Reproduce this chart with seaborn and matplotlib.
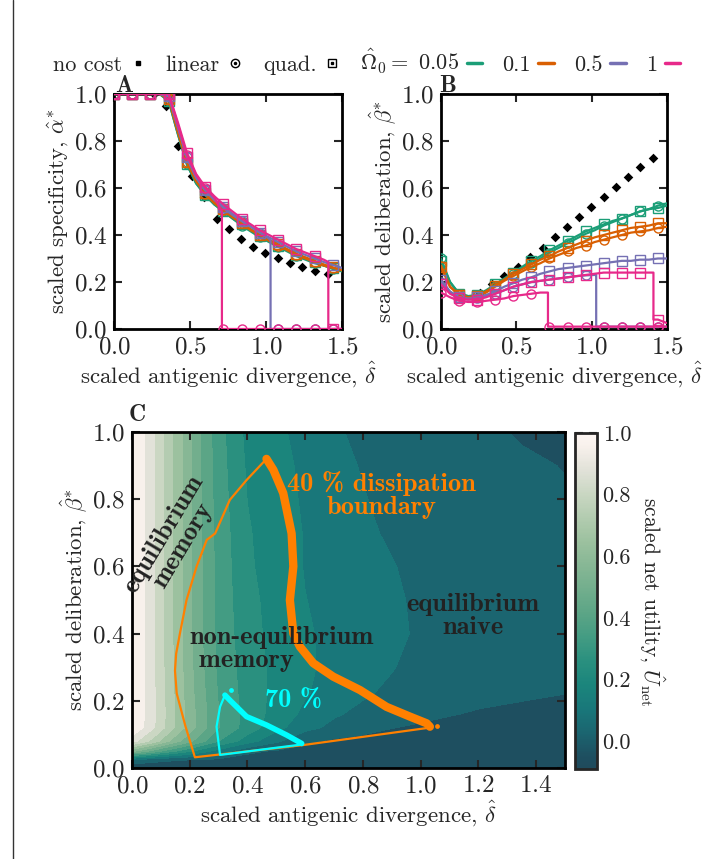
import numpy as np
import matplotlib
matplotlib.use('Agg')
import matplotlib.pyplot as plt
import matplotlib.cm as cm
from matplotlib.colors import LinearSegmentedColormap, Normalize
from matplotlib.lines import Line2D
from matplotlib.ticker import FormatStrFormatter
import seaborn as sns

sns.set_style('ticks')
plt.rcParams['font.family'] = ['cmr10', 'DejaVu Serif']
plt.rcParams['mathtext.fontset'] = 'cm'
plt.rcParams['axes.unicode_minus'] = False
plt.rcParams['axes.formatter.use_mathtext'] = True

# ---- panels A and B: scaled antigenic divergence grid ----
delta = [0.00, 0.06, 0.12, 0.18, 0.24, 0.30, 0.36, 0.42, 0.48, 0.54, 0.60, 0.66, 0.72,
         0.78, 0.84, 0.90, 0.96, 1.02, 1.08, 1.14, 1.20, 1.26, 1.32, 1.38, 1.44, 1.50]
omegas = ['0.05', '0.1', '0.5', '1']
omega_colors = ['#1b9e77', '#d95f02', '#7570b3', '#e7298a']
# where a solution collapses to zero (linear / quadratic cost), None = never
drop_lin = [None, None, 1.03, 0.71]
drop_quad = [None, None, None, 1.41]
# value just before the collapse
drop_lin_top_a = [None, None, 0.375, 0.50]
drop_quad_top_a = [None, None, None, 0.285]
drop_lin_top_b = [None, None, 0.23, 0.155]
drop_quad_top_b = [None, None, None, 0.24]

# A: scaled specificity alpha*
alpha_lin_005 = [1, 1, 1, 1, 1, 1, 0.97, 0.83, 0.70, 0.62, 0.57, 0.53, 0.50, 0.47, 0.44, 0.415, 0.39, 0.37, 0.35, 0.33, 0.31, 0.295, 0.28, 0.27, 0.255, 0.245]
alpha_quad_005 = [1, 1, 1, 1, 1, 1, 0.97, 0.83, 0.70, 0.62, 0.57, 0.53, 0.50, 0.47, 0.445, 0.42, 0.395, 0.375, 0.355, 0.335, 0.315, 0.30, 0.285, 0.27, 0.26, 0.25]
alpha_lin_01 = [1, 1, 1, 1, 1, 1, 0.98, 0.84, 0.71, 0.63, 0.575, 0.535, 0.505, 0.475, 0.45, 0.42, 0.40, 0.375, 0.355, 0.335, 0.315, 0.30, 0.285, 0.27, 0.26, 0.25]
alpha_quad_01 = [1, 1, 1, 1, 1, 1, 0.98, 0.84, 0.71, 0.63, 0.58, 0.54, 0.51, 0.48, 0.45, 0.425, 0.40, 0.38, 0.36, 0.34, 0.32, 0.305, 0.29, 0.275, 0.262, 0.25]
alpha_lin_05 = [1, 1, 1, 1, 1, 1, 0.99, 0.86, 0.73, 0.645, 0.59, 0.55, 0.515, 0.485, 0.46, 0.435, 0.41, 0.385, 0, 0, 0, 0, 0, 0, 0, 0]
alpha_quad_05 = [1, 1, 1, 1, 1, 1, 0.99, 0.86, 0.73, 0.645, 0.59, 0.55, 0.52, 0.49, 0.46, 0.435, 0.41, 0.39, 0.37, 0.35, 0.33, 0.315, 0.30, 0.285, 0.272, 0.26]
alpha_lin_1 = [1, 1, 1, 1, 1, 1, 1.0, 0.87, 0.74, 0.655, 0.60, 0.56, 0, 0, 0, 0, 0, 0, 0, 0, 0, 0, 0, 0, 0, 0]
alpha_quad_1 = [1, 1, 1, 1, 1, 1, 1.0, 0.88, 0.75, 0.66, 0.605, 0.565, 0.53, 0.50, 0.47, 0.445, 0.42, 0.40, 0.38, 0.36, 0.34, 0.325, 0.31, 0.295, 0, 0]

# B: scaled deliberation beta*
beta_lin_005 = [0.30, 0.20, 0.15, 0.14, 0.14, 0.16, 0.185, 0.21, 0.235, 0.26, 0.28, 0.30, 0.325, 0.345, 0.365, 0.385, 0.405, 0.42, 0.44, 0.455, 0.47, 0.485, 0.50, 0.51, 0.525, 0.535]
beta_quad_005 = [0.29, 0.20, 0.15, 0.14, 0.145, 0.165, 0.19, 0.215, 0.24, 0.265, 0.29, 0.31, 0.335, 0.355, 0.375, 0.395, 0.415, 0.43, 0.445, 0.46, 0.47, 0.485, 0.50, 0.51, 0.515, 0.525]
beta_lin_01 = [0.27, 0.18, 0.145, 0.135, 0.14, 0.155, 0.18, 0.205, 0.225, 0.245, 0.265, 0.28, 0.30, 0.315, 0.33, 0.345, 0.355, 0.37, 0.38, 0.39, 0.40, 0.41, 0.415, 0.42, 0.43, 0.435]
beta_quad_01 = [0.265, 0.18, 0.145, 0.135, 0.14, 0.16, 0.185, 0.21, 0.235, 0.255, 0.275, 0.295, 0.31, 0.33, 0.345, 0.36, 0.375, 0.39, 0.40, 0.41, 0.42, 0.43, 0.435, 0.44, 0.45, 0.45]
beta_lin_05 = [0.20, 0.155, 0.13, 0.125, 0.13, 0.14, 0.15, 0.165, 0.18, 0.19, 0.20, 0.205, 0.21, 0.215, 0.22, 0.225, 0.228, 0.23, 0.01, 0.01, 0.01, 0.01, 0.01, 0.01, 0.01, 0.01]
beta_quad_05 = [0.21, 0.16, 0.135, 0.13, 0.135, 0.145, 0.16, 0.18, 0.195, 0.21, 0.22, 0.235, 0.245, 0.255, 0.26, 0.265, 0.27, 0.275, 0.28, 0.285, 0.29, 0.29, 0.295, 0.295, 0.30, 0.30]
beta_lin_1 = [0.155, 0.135, 0.12, 0.115, 0.115, 0.12, 0.125, 0.13, 0.14, 0.145, 0.15, 0.155, 0.01, 0.01, 0.01, 0.01, 0.01, 0.01, 0.01, 0.01, 0.01, 0.01, 0.01, 0.01, 0.01, 0.01]
beta_quad_1 = [0.19, 0.15, 0.13, 0.125, 0.125, 0.135, 0.15, 0.165, 0.18, 0.19, 0.20, 0.205, 0.21, 0.215, 0.22, 0.225, 0.23, 0.235, 0.24, 0.24, 0.24, 0.24, 0.24, 0.24, 0.04, 0.025]

# no cost
nc_delta = [0.26, 0.34, 0.42, 0.51, 0.59, 0.675, 0.755, 0.835, 0.915, 0.995, 1.08, 1.16, 1.24, 1.32, 1.41]
nc_alpha = [1.0, 0.95, 0.78, 0.65, 0.56, 0.47, 0.425, 0.385, 0.35, 0.325, 0.30, 0.28, 0.262, 0.245, 0.232]
nc_beta = [0.155, 0.19, 0.225, 0.265, 0.308, 0.343, 0.39, 0.435, 0.477, 0.52, 0.56, 0.603, 0.647, 0.69, 0.728]

# ---- panel C: scaled net utility on (delta, beta) ----
u_delta = [0.0, 0.04, 0.08, 0.12, 0.17, 0.23, 0.3, 0.4, 0.5, 0.6, 0.7, 0.8, 0.9, 1.0, 1.1, 1.2, 1.35, 1.5]
u_beta = [0.0, 0.025, 0.05, 0.08, 0.12, 0.16, 0.22, 0.3, 0.4, 0.5, 0.6, 0.7, 0.8, 0.9, 1.0]
u_net = [
    [-0.085] * 18,
    [0.06, 0.04, 0.02, 0.005, -0.005, -0.015, -0.025, -0.035, -0.045, -0.05, -0.055, -0.06, -0.065, -0.065, -0.07, -0.07, -0.075, -0.075],
    [0.55, 0.48, 0.41, 0.34, 0.27, 0.19, 0.11, 0.0, -0.02, -0.035, -0.045, -0.055, -0.06, -0.06, -0.065, -0.065, -0.07, -0.07],
    [0.88, 0.8, 0.72, 0.63, 0.53, 0.42, 0.3, 0.18, 0.08, 0.0, -0.025, -0.04, -0.05, -0.055, -0.06, -0.06, -0.065, -0.065],
    [0.99, 0.92, 0.84, 0.75, 0.635, 0.51, 0.38, 0.265, 0.17, 0.09, 0.045, 0.02, -0.01, -0.025, -0.035, -0.04, -0.05, -0.055],
    [1.0, 0.93, 0.85, 0.755, 0.64, 0.51, 0.38, 0.27, 0.19, 0.125, 0.075, 0.045, 0.025, 0.01, -0.008, -0.02, -0.03, -0.04],
    [1.0, 0.93, 0.845, 0.75, 0.63, 0.5, 0.37, 0.265, 0.2, 0.15, 0.11, 0.075, 0.05, 0.035, 0.02, 0.01, -0.002, -0.012],
    [1.0, 0.93, 0.84, 0.745, 0.625, 0.49, 0.36, 0.26, 0.2, 0.155, 0.125, 0.105, 0.07, 0.04, 0.03, 0.02, 0.01, 0.0],
    [1.0, 0.93, 0.84, 0.74, 0.62, 0.48, 0.355, 0.25, 0.195, 0.15, 0.13, 0.115, 0.09, 0.05, 0.035, 0.025, 0.015, 0.005],
    [1.0, 0.93, 0.84, 0.74, 0.62, 0.48, 0.35, 0.245, 0.19, 0.145, 0.125, 0.11, 0.085, 0.045, 0.03, 0.02, 0.01, 0.0],
    [1.0, 0.93, 0.84, 0.74, 0.62, 0.48, 0.35, 0.235, 0.18, 0.14, 0.125, 0.1, 0.07, 0.045, 0.03, 0.02, 0.01, 0.0],
    [1.0, 0.93, 0.84, 0.74, 0.62, 0.475, 0.345, 0.23, 0.175, 0.14, 0.12, 0.08, 0.055, 0.04, 0.03, 0.02, 0.01, 0.0],
    [1.0, 0.93, 0.84, 0.74, 0.62, 0.475, 0.34, 0.22, 0.17, 0.135, 0.11, 0.07, 0.045, 0.035, 0.025, 0.015, 0.003, -0.005],
    [1.0, 0.93, 0.84, 0.74, 0.62, 0.47, 0.335, 0.21, 0.165, 0.13, 0.09, 0.06, 0.04, 0.03, 0.02, 0.01, 0.0, -0.015],
    [1.0, 0.93, 0.84, 0.74, 0.62, 0.47, 0.33, 0.2, 0.155, 0.125, 0.075, 0.05, 0.035, 0.025, 0.015, 0.005, -0.02, -0.05],
]

# dissipation boundaries
orange_thin_x = [1.03, 0.59, 0.218, 0.185, 0.155, 0.149, 0.153, 0.166, 0.189, 0.224, 0.259, 0.288, 0.339, 0.397, 0.466]
orange_thin_y = [0.12, 0.068, 0.032, 0.125, 0.222, 0.29, 0.34, 0.40, 0.50, 0.60, 0.679, 0.698, 0.798, 0.857, 0.92]
orange_thick_x = [0.466, 0.49, 0.524, 0.553, 0.559, 0.547, 0.559, 0.582, 0.628, 0.697, 0.79, 0.882, 0.963, 1.021, 1.032]
orange_thick_y = [0.92, 0.887, 0.818, 0.698, 0.60, 0.50, 0.40, 0.361, 0.312, 0.272, 0.232, 0.182, 0.153, 0.133, 0.123]
cyan_thin_x = [0.588, 0.305, 0.293, 0.305, 0.322]
cyan_thin_y = [0.07, 0.039, 0.123, 0.182, 0.217]
cyan_thick_x = [0.322, 0.339, 0.397, 0.466, 0.536, 0.588]
cyan_thick_y = [0.217, 0.202, 0.153, 0.128, 0.098, 0.073]

ORANGE = '#ff8000'
CYAN = '#00ffff'
TXT = '#222222'
TICK_FS = 18
LABEL_FS = 16.5

fig = plt.figure(figsize=(7.05, 8.59), dpi=100)
axA = fig.add_axes([0.1617, 0.617, 0.3234, 0.2736])
axB = fig.add_axes([0.6255, 0.617, 0.3206, 0.2736])
axC = fig.add_axes([0.1872, 0.1059, 0.6142, 0.3912])
cax = fig.add_axes([0.8156, 0.1048, 0.0312, 0.391])


def style_axes(ax):
    for s in ax.spines.values():
        s.set_linewidth(2)
        s.set_color('k')
    ax.tick_params(direction='in', top=True, right=True, length=6, width=1.5,
                   labelsize=TICK_FS, pad=5)


def with_drop(vals, drop_x, top):
    # insert a vertical step where the solution collapses
    xs, ys = list(delta), list(vals)
    marks = list(range(0, len(delta), 2))
    if drop_x is None:
        return xs, ys, marks
    i = next(k for k, x in enumerate(xs) if x > drop_x)
    xs = xs[:i] + [drop_x, drop_x] + xs[i:]
    ys = ys[:i] + [top, ys[i]] + ys[i:]
    marks = [m if m < i else m + 2 for m in marks]
    return xs, ys, marks


def draw_curves(ax, lin, quad, nc_vals, lin_tops, quad_tops):
    sns.scatterplot(x=nc_delta, y=nc_vals, ax=ax, marker='D', color='k', s=24,
                    edgecolor='k', linewidth=0, zorder=2)
    for j, (om, col) in enumerate(zip(omegas, omega_colors)):
        for vals, mk, dr, top in [(quad[om], 's', drop_quad[j], quad_tops[j]),
                                  (lin[om], 'o', drop_lin[j], lin_tops[j])]:
            xs, ys, marks = with_drop(vals, dr, top)
            sns.lineplot(x=xs, y=ys, ax=ax, sort=False, estimator=None, color=col,
                         lw=1.6, marker=mk, ms=6.5, mfc='none', mec=col, mew=1.0,
                         markevery=marks, zorder=3)
    ax.set_xlim(0, 1.5)
    ax.set_ylim(0, 1.0)
    ax.set_xticks([0, 0.5, 1.0, 1.5])
    ax.set_yticks([0, 0.2, 0.4, 0.6, 0.8, 1.0])
    ax.set_xlabel(r'scaled antigenic divergence, $\hat{\delta}$', fontsize=LABEL_FS, labelpad=1)
    style_axes(ax)


alpha_lin = dict(zip(omegas, [alpha_lin_005, alpha_lin_01, alpha_lin_05, alpha_lin_1]))
alpha_quad = dict(zip(omegas, [alpha_quad_005, alpha_quad_01, alpha_quad_05, alpha_quad_1]))
beta_lin = dict(zip(omegas, [beta_lin_005, beta_lin_01, beta_lin_05, beta_lin_1]))
beta_quad = dict(zip(omegas, [beta_quad_005, beta_quad_01, beta_quad_05, beta_quad_1]))

draw_curves(axA, alpha_lin, alpha_quad, nc_alpha, drop_lin_top_a, drop_quad_top_a)
axA.set_ylabel(r'scaled specificity, $\hat{\alpha}^{*}$', fontsize=LABEL_FS, labelpad=2)
draw_curves(axB, beta_lin, beta_quad, nc_beta, drop_lin_top_b, drop_quad_top_b)
axB.set_ylabel(r'scaled deliberation, $\hat{\beta}^{*}$', fontsize=LABEL_FS, labelpad=2)

axA.text(0.044, 1.034, 'A', transform=axA.transAxes, family='cmb10', fontsize=17,
         ha='center', va='center')
axB.text(0.031, 1.034, 'B', transform=axB.transAxes, family='cmb10', fontsize=17,
         ha='center', va='center')

# ---- panel C ----
anchors = [(-0.09, '#1f4a5c'), (-0.05, '#1e4f60'), (0.027, '#1b6570'), (0.105, '#19787a'),
           (0.183, '#1b857c'), (0.261, '#2a907f'), (0.339, '#449c83'), (0.417, '#5ca586'),
           (0.494, '#72ae8d'), (0.572, '#87b795'), (0.65, '#9cc19f'), (0.728, '#b3ccb0'),
           (0.806, '#cad7c3'), (0.884, '#e2e2d9'), (0.961, '#f8f1ec'), (1.0, '#fdf6f3')]
vmin, vmax = -0.09, 1.0
cmap = LinearSegmentedColormap.from_list(
    'utility', [((v - vmin) / (vmax - vmin), c) for v, c in anchors])
norm = Normalize(vmin=vmin, vmax=vmax)
levels = np.linspace(vmin, vmax, 15)

X, Y = np.meshgrid(u_delta, u_beta)
axC.contourf(X, Y, np.array(u_net), levels=levels, cmap=cmap, norm=norm, zorder=0)

sns.lineplot(x=orange_thin_x, y=orange_thin_y, ax=axC, sort=False, estimator=None,
             color=ORANGE, lw=1.6, zorder=3)
sns.lineplot(x=orange_thick_x, y=orange_thick_y, ax=axC, sort=False, estimator=None,
             color=ORANGE, lw=6, zorder=3)
sns.lineplot(x=cyan_thin_x, y=cyan_thin_y, ax=axC, sort=False, estimator=None,
             color=CYAN, lw=1.6, zorder=4)
sns.lineplot(x=cyan_thick_x, y=cyan_thick_y, ax=axC, sort=False, estimator=None,
             color=CYAN, lw=4, zorder=4)
sns.scatterplot(x=[0.342], y=[0.232], ax=axC, color=CYAN, s=12, linewidth=0, zorder=4)
sns.scatterplot(x=[1.055], y=[0.125], ax=axC, color=ORANGE, s=12, linewidth=0, zorder=4)

bold = dict(family='cmb10', fontsize=19)
axC.text(0.143, 0.68, 'equilibrium\nmemory', color=TXT, rotation=59, ha='center',
         va='center', linespacing=1.0, **bold)
axC.text(0.20, 0.354, 'non-equilibrium\n memory', color=TXT, ha='left', va='center',
         multialignment='left', linespacing=1.0, **bold)
axC.text(1.18, 0.452, 'equilibrium\nnaive', color=TXT, ha='center', va='center',
         linespacing=1.0, **bold)
axC.text(0.865, 0.812, '40 % dissipation\nboundary', color=ORANGE, ha='center',
         va='center', linespacing=1.0, **bold)
axC.text(0.56, 0.197, '70 %', color=CYAN, ha='center', va='center', **bold)

axC.set_xlim(0, 1.5)
axC.set_ylim(0, 1.0)
axC.set_xticks([0, 0.2, 0.4, 0.6, 0.8, 1.0, 1.2, 1.4])
axC.set_yticks([0, 0.2, 0.4, 0.6, 0.8, 1.0])
axC.set_xlabel(r'scaled antigenic divergence, $\hat{\delta}$', fontsize=LABEL_FS, labelpad=1)
axC.set_ylabel(r'scaled deliberation, $\hat{\beta}^{*}$', fontsize=LABEL_FS, labelpad=2)
style_axes(axC)
axC.text(0.012, 1.05, 'C', transform=axC.transAxes, family='cmb10', fontsize=17,
         ha='center', va='center')

sm = cm.ScalarMappable(norm=norm, cmap=cmap)
cb = fig.colorbar(sm, cax=cax)
cb.set_ticks([0.0, 0.2, 0.4, 0.6, 0.8, 1.0])
cb.ax.yaxis.set_major_formatter(FormatStrFormatter('%.1f'))
cb.outline.set_linewidth(2)
cax.tick_params(direction='in', left=True, right=True, length=6, width=1.5,
                labelsize=16, pad=4)
cb.set_label(r'scaled net utility, $\hat{U}_{\rm net}$', rotation=270, fontsize=15.5,
             labelpad=26)

# ---- legend row ----
handles = [
    Line2D([], [], ls='none', marker='s', color='k', ms=3.5),
    (Line2D([], [], ls='none', marker='o', mfc='none', mec='k', ms=6, mew=1),
     Line2D([], [], ls='none', marker='o', color='k', ms=1.5)),
    (Line2D([], [], ls='none', marker='s', mfc='none', mec='k', ms=6, mew=1),
     Line2D([], [], ls='none', marker='s', color='k', ms=1.5)),
]
handles += [Line2D([], [], color=c, lw=2.5) for c in omega_colors]
labels = ['no cost', 'linear', 'quad.', r'$\hat{\Omega}_0 =$ 0.05', '0.1', '0.5', '1']
fig.legend(handles, labels, loc='center', bbox_to_anchor=(0.52, 0.928), ncol=7,
           frameon=False, markerfirst=False, handlelength=0.7, handletextpad=0.35,
           columnspacing=0.9, fontsize=16)

fig.add_artist(Line2D([12.5 / 705, 12.5 / 705], [0, 1], transform=fig.transFigure,
                      color='#333333', lw=1))

fig.savefig('out.png', dpi=100)
plt.close(fig)
